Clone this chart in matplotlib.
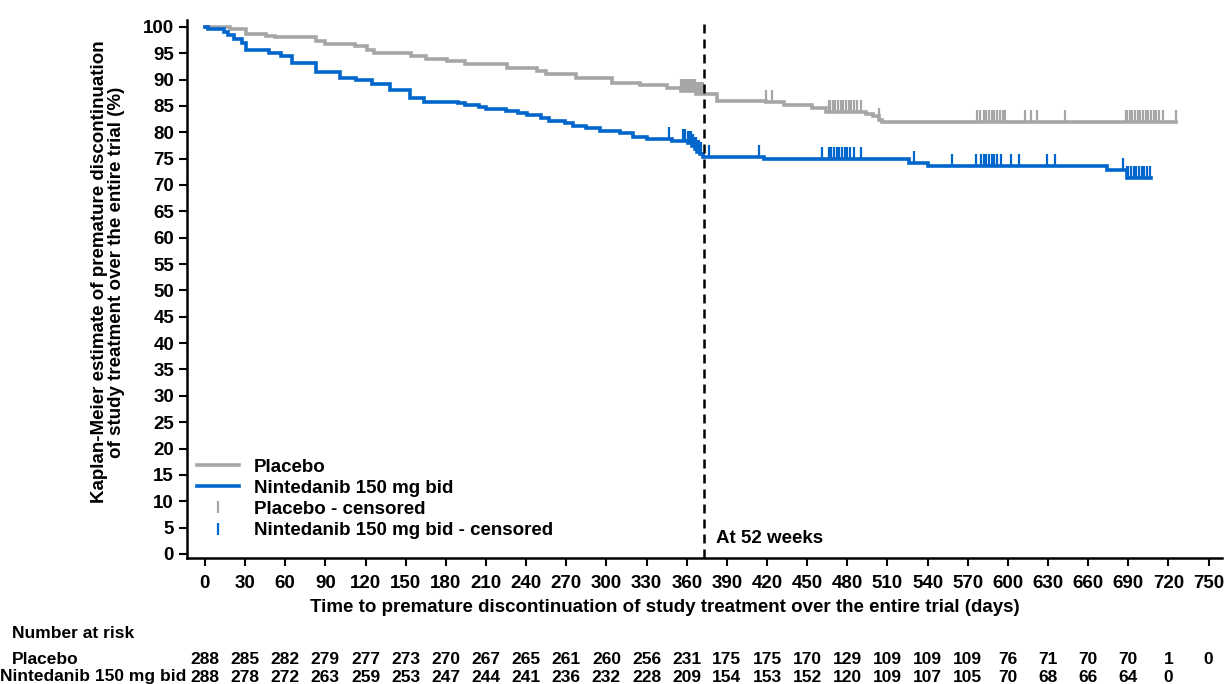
import numpy as np
import matplotlib
matplotlib.use("Agg")
from matplotlib import pyplot as plt
from matplotlib.lines import Line2D
from matplotlib import transforms

plt.rcParams['font.family'] = ['Liberation Sans', 'DejaVu Sans']
plt.rcParams['font.weight'] = 'bold'

# Kaplan-Meier step curves: time (days) where the estimate changes, and the new value (%)
placebo_t = [0, 19, 31, 46, 52, 83, 90, 112, 121, 126, 154, 165, 181, 194, 226, 248,
             255, 277, 304, 325, 345, 356, 367, 383, 419, 433, 454, 464, 494, 499,
             504, 506, 726]
placebo_s = [100, 99.6, 98.7, 98.3, 98.0, 97.3, 96.7, 96.4, 95.6, 95.0, 94.5, 93.9,
             93.5, 92.9, 92.2, 91.7, 91.0, 90.3, 89.3, 88.9, 88.4, 87.9, 87.2, 86.0,
             85.7, 85.2, 84.6, 83.9, 83.5, 83.0, 82.4, 82.0, 82.0]

ninte_t = [0, 2, 14, 17, 22, 28, 31, 48, 57, 65, 83, 101, 113, 125, 138, 153, 164,
           189, 194, 205, 210, 225, 234, 241, 251, 257, 269, 275, 285, 295, 310, 320,
           330, 349, 361, 364, 366, 368, 370, 372, 418, 526, 540, 674, 689, 707]
ninte_s = [100, 99.6, 99.0, 98.5, 97.7, 96.9, 95.6, 95.1, 94.4, 93.1, 91.5, 90.3,
           89.9, 89.2, 88.0, 86.5, 85.8, 85.6, 85.2, 84.8, 84.4, 84.1, 83.6, 83.2,
           82.7, 82.2, 81.7, 81.2, 80.8, 80.3, 79.8, 79.1, 78.7, 78.4, 78.0, 77.4,
           76.8, 76.2, 75.8, 75.4, 74.9, 74.1, 73.6, 72.8, 71.4, 71.4]

# censoring times (days)
placebo_cens = [356, 357, 358, 359, 360, 361, 362, 363, 364, 365, 366, 367, 368, 369,
                370, 371, 372, 419, 424, 466, 467, 469, 471, 473, 475, 477, 479, 481,
                483, 485, 487, 490, 504, 577, 579, 582, 584, 586, 588, 590, 592, 594,
                596, 598, 613, 617, 622, 643, 688, 689, 691, 693, 695, 697, 699, 701,
                703, 705, 707, 709, 711, 713, 716, 726]
ninte_cens = [347, 357, 359, 361, 362, 363, 364, 365, 366, 367, 368, 369, 370, 371,
              377, 414, 461, 466, 468, 470, 472, 474, 476, 478, 480, 482, 485, 490,
              530, 558, 576, 580, 582, 584, 586, 588, 590, 592, 595, 602, 608, 629,
              635, 686, 689, 690, 692, 694, 696, 698, 700, 702, 704, 706]

risk_days = list(range(0, 751, 30))
placebo_risk = [288, 285, 282, 279, 277, 273, 270, 267, 265, 261, 260, 256, 231, 175,
                175, 170, 129, 109, 109, 109, 76, 71, 70, 70, 1, 0]
ninte_risk = [288, 278, 272, 263, 259, 253, 247, 244, 241, 236, 232, 228, 209, 154,
              153, 152, 120, 109, 107, 105, 70, 68, 66, 64, 0]

week52 = 373

GRAY = '#a6a6a6'
BLUE = '#0066cc'
FS = 13.5
LW = 2.6


def at_time(times, surv, pts):
    idx = np.searchsorted(times, pts, side='right') - 1
    return np.asarray(surv)[idx]


fig = plt.figure(figsize=(12.24, 6.84), dpi=100)
ax = fig.add_axes([187 / 1224, 1 - 558 / 684, (1222 - 187) / 1224, (558 - 20) / 684])

ax.step(placebo_t, placebo_s, where='post', color=GRAY, lw=LW, solid_joinstyle='miter')
ax.step(ninte_t, ninte_s, where='post', color=BLUE, lw=LW, solid_joinstyle='miter')
ax.plot(placebo_cens, at_time(placebo_t, placebo_s, placebo_cens), ls='none',
        marker=2, ms=8.5, mew=1.6, color=GRAY)
ax.plot(ninte_cens, at_time(ninte_t, ninte_s, ninte_cens), ls='none',
        marker=2, ms=8.5, mew=1.6, color=BLUE)

ax.axvline(week52, color='black', lw=1.8, ls=(0, (3.6, 2.4)))
ax.text(382, 3.0, 'At 52 weeks', fontsize=FS, fontweight='bold', va='center', ha='left')

ax.set_xlim(-13.4, 760)
ax.set_ylim(-0.76, 101.3)
ax.set_xticks(risk_days)
ax.set_yticks(range(0, 101, 5))
for s in ['top', 'right']:
    ax.spines[s].set_visible(False)
for s in ['left', 'bottom']:
    ax.spines[s].set_linewidth(1.8)
ax.tick_params(axis='both', length=5.8, width=1.5, labelsize=FS)
ax.tick_params(axis='x', pad=6.5)
for lab in ax.get_xticklabels() + ax.get_yticklabels():
    lab.set_fontweight('bold')

handles = [
    Line2D([], [], color=GRAY, lw=LW),
    Line2D([], [], color=BLUE, lw=LW),
    Line2D([], [], color=GRAY, ls='none', marker='|', ms=8, mew=1.6),
    Line2D([], [], color=BLUE, ls='none', marker='|', ms=8, mew=1.6),
]
labels = ['Placebo', 'Nintedanib 150 mg bid', 'Placebo - censored',
          'Nintedanib 150 mg bid - censored']
ax.legend(handles, labels, loc='upper left', bbox_to_anchor=(188 / 1224, 1 - 449 / 684),
          bbox_transform=fig.transFigure, frameon=False, borderpad=0,
          handlelength=2.2, handletextpad=0.8, labelspacing=0.22,
          prop={'weight': 'bold', 'size': FS})

fig.text(108 / 1224, 1 - 272 / 684,
         'Kaplan-Meier estimate of premature discontinuation\nof study treatment over the entire trial (%)',
         rotation=90, ha='center', va='center', multialignment='center',
         fontsize=FS, fontweight='bold', linespacing=1.05)
fig.text(665 / 1224, 1 - 608 / 684,
         'Time to premature discontinuation of study treatment over the entire trial (days)',
         ha='center', va='center', fontsize=FS, fontweight='bold')

# number at risk table under the axis
RFS = 12.5
fig.text(12 / 1224, 1 - 634 / 684, 'Number at risk', ha='left', va='center',
         fontsize=RFS, fontweight='bold')
fig.text(12 / 1224, 1 - 659 / 684, 'Placebo', ha='left', va='center',
         fontsize=RFS, fontweight='bold')
fig.text(0 / 1224, 1 - 677 / 684, 'Nintedanib 150 mg bid', ha='left', va='center',
         fontsize=RFS, fontweight='bold')
trans = transforms.blended_transform_factory(ax.transData, fig.transFigure)
for d, n in zip(risk_days, placebo_risk):
    ax.text(d, 1 - 659 / 684, str(n), transform=trans, ha='center', va='center',
            fontsize=RFS, fontweight='bold', clip_on=False)
for d, n in zip(risk_days, ninte_risk):
    ax.text(d, 1 - 677 / 684, str(n), transform=trans, ha='center', va='center',
            fontsize=RFS, fontweight='bold', clip_on=False)

fig.savefig('out.png', dpi=100)
